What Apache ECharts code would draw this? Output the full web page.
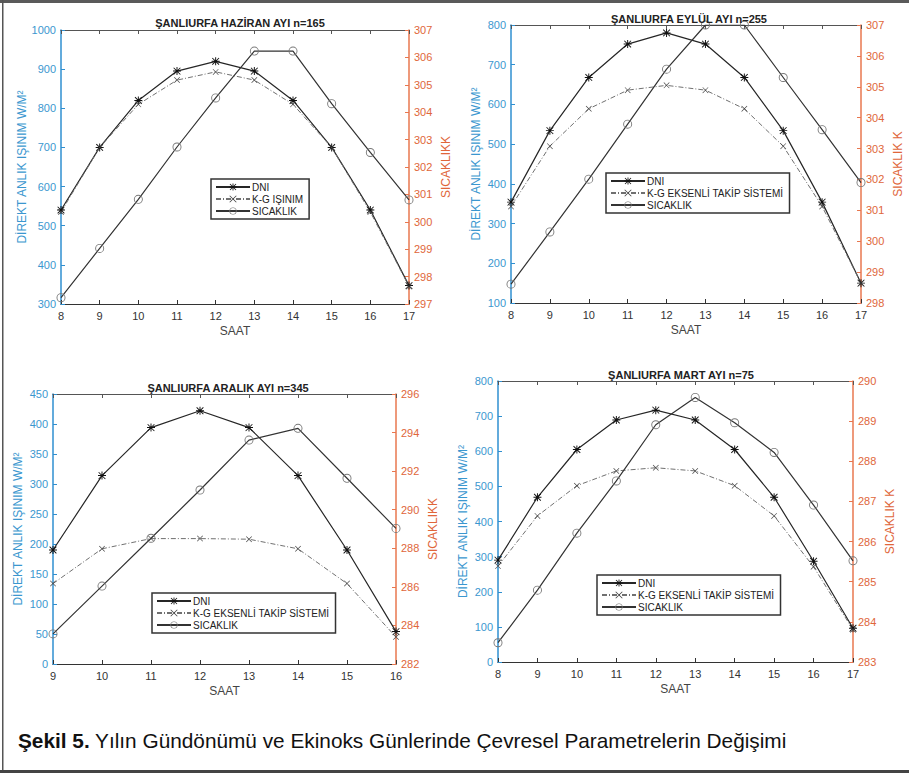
<!DOCTYPE html>
<html>
<head>
<meta charset="utf-8">
<script src="https://cdn.jsdelivr.net/npm/echarts@6/dist/echarts.min.js"></script>
<style>
html,body{margin:0;padding:0;background:#fff;}
#main{width:909px;height:776px;}
</style>
</head>
<body>
<div id="main"></div>
<script>
// ---- data ----
const hoursA = [8, 9, 10, 11, 12, 13, 14, 15, 16, 17];
const hoursC = [9, 10, 11, 12, 13, 14, 15, 16];

const haziranDNI = [540, 700, 820, 895, 920, 895, 820, 700, 540, 347];
const haziranKG  = [535, 700, 810, 872, 893, 872, 810, 700, 535, 345];
const haziranT   = [297.23, 299.03, 300.82, 302.73, 304.52, 306.23, 306.23, 304.31, 302.53, 300.8];

const eylulDNI = [354, 534, 668, 752, 780, 752, 668, 534, 354, 150];
const eylulKG  = [343, 495, 589, 636, 648, 636, 589, 495, 343, 150];
const eylulT   = [298.61, 300.30, 302.01, 303.79, 305.57, 307.0, 307.0, 305.30, 303.61, 301.9];

const aralikDNI = [190, 314, 394, 422, 394, 314, 190, 54];
const aralikKG  = [134, 192, 209, 209, 208, 192, 134, 45];
const aralikT   = [283.56, 286.04, 288.52, 291.02, 293.61, 294.22, 291.63, 289.03];

const martDNI = [290, 469, 605, 689, 717, 689, 605, 469, 287, 96];
const martKG  = [273, 416, 502, 544, 553, 544, 502, 416, 271, 92];
const martT   = [283.48, 284.79, 286.21, 287.51, 288.91, 289.59, 288.96, 288.22, 286.91, 285.52];

const panelTitles = ['ŞANLIURFA HAZİRAN AYI n=165', 'ŞANLIURFA EYLÜL AYI n=255', 'ŞANLIURFA ARALIK AYI n=345', 'ŞANLIURFA MART AYI n=75'];
const seriesNames = ['DNI', 'K-G EKSENLİ TAKİP SİSTEMİ', 'SICAKLIK'];
const kgNameHaziran = 'K-G IŞINIM';
const leftAxisName = 'DİREKT ANLIK IŞINIM W/M²';
const rightAxisNames = ['SICAKLIKK', 'SICAKLIK K', 'SICAKLIKK', 'SICAKLIK K'];
const xAxisName = 'SAAT';
const xRanges = [[8, 17], [8, 17], [9, 16], [8, 17]];
const leftRanges = [[300, 1000, 100], [100, 800, 100], [0, 450, 50], [0, 800, 100]];
const rightRanges = [[297, 307, 1], [298, 307, 1], [282, 296, 2], [283, 290, 1]];
const captionBold = 'Şekil 5.';
const captionText = ' Yılın Gündönümü ve Ekinoks Günlerinde Çevresel Parametrelerin Değişimi';

// ---- layout / style ----
const grids = [
  {left: 61, right: 500, top: 30, bottom: 472},
  {left: 511, right: 48, top: 25, bottom: 473},
  {left: 53, right: 513, top: 394, bottom: 112},
  {left: 498, right: 56, top: 381, bottom: 114}
];
const titlePos = [[235, 12], [684, 8], [223, 377], [676, 364]];
const legendPos = [[211, 179], [606, 173], [152, 593], [597, 575]];

const FONT = 'Liberation Sans, Arial, sans-serif';
const BLUE = '#2f8fd0', BLUE_T = '#3b97cf';
const ORANGE = '#e8774f', ORANGE_T = '#e0663a';

const ASTER = 'path://M4.4,0 L5.6,0 L5.6,10 L4.4,10 Z M0,4.4 L10,4.4 L10,5.6 L0,5.6 Z M1.2,0.4 L9.6,8.8 L8.8,9.6 L0.4,1.2 Z M8.8,0.4 L9.6,1.2 L1.2,9.6 L0.4,8.8 Z';
const XMARK = 'path://M0.8,0 L10,9.2 L9.2,10 L0,0.8 Z M9.2,0 L10,0.8 L0.8,10 L0,9.2 Z';
const RING = 'path://M10,5 A5,5 0 1,0 0,5 A5,5 0 1,0 10,5 Z M9,5 A4,4 0 1,1 1,5 A4,4 0 1,1 9,5 Z';

const panelData = [
  [hoursA, haziranDNI, haziranKG, haziranT, kgNameHaziran],
  [hoursA, eylulDNI, eylulKG, eylulT, seriesNames[1]],
  [hoursC, aralikDNI, aralikKG, aralikT, seriesNames[1]],
  [hoursA, martDNI, martKG, martT, seriesNames[1]]
];

function pairs(xs, ys) { return xs.map((x, i) => [x, ys[i]]); }
const plain = v => String(v);

const option = {
  animation: false,
  backgroundColor: '#fff',
  textStyle: {fontFamily: FONT},
  grid: grids.map(g => Object.assign({containLabel: false}, g)),
  title: panelTitles.map((t, i) => ({
    text: t, left: titlePos[i][0], top: titlePos[i][1], textAlign: 'center',
    textStyle: {fontSize: 11, fontWeight: 'bold', color: '#222', fontFamily: FONT}
  })),
  legend: [],
  xAxis: [],
  yAxis: [],
  series: [],
  graphic: [
    {type: 'rect', shape: {x: 0, y: 0, width: 909, height: 3}, style: {fill: '#5a5a5a'}},
    {type: 'rect', shape: {x: 2, y: 0, width: 1.5, height: 773}, style: {fill: '#555'}},
    {type: 'rect', shape: {x: 0, y: 770, width: 909, height: 3}, style: {fill: '#444'}},
    {type: 'text', left: 18, top: 730, style: {
      text: '{b|' + captionBold + '}' + captionText,
      fontSize: 20.8, fontFamily: FONT, fill: '#111',
      rich: {b: {fontWeight: 'bold', fontSize: 20.8, fontFamily: FONT, fill: '#111'}}
    }}
  ]
};

panelData.forEach((pd, i) => {
  const [xs, dni, kg, temp, kgName] = pd;
  option.xAxis.push({
    type: 'value', gridIndex: i, min: xRanges[i][0], max: xRanges[i][1], interval: 1,
    position: 'bottom',
    name: xAxisName, nameLocation: 'middle', nameGap: 21,
    nameTextStyle: {fontSize: 12, color: '#444', fontFamily: FONT},
    axisLine: {lineStyle: {color: '#333', width: 1.2}},
    axisTick: {inside: true, length: 4, lineStyle: {color: '#333'}},
    axisLabel: {fontSize: 11, color: '#333', margin: 6, fontFamily: FONT, formatter: plain},
    splitLine: {show: false}
  });
  option.xAxis.push({
    type: 'value', gridIndex: i, min: xRanges[i][0], max: xRanges[i][1], interval: 1,
    position: 'top',
    axisLine: {lineStyle: {color: '#555', width: 1.2}},
    axisTick: {inside: true, length: 4, lineStyle: {color: '#555'}},
    axisLabel: {show: false},
    splitLine: {show: false}
  });
  option.yAxis.push({
    type: 'value', gridIndex: i, position: 'left',
    min: leftRanges[i][0], max: leftRanges[i][1], interval: leftRanges[i][2],
    name: leftAxisName, nameLocation: 'middle', nameRotate: 90, nameGap: 29,
    nameTextStyle: {fontSize: 12, color: BLUE_T, fontFamily: FONT},
    axisLine: {show: true, lineStyle: {color: BLUE, width: 1.5}},
    axisTick: {show: true, inside: true, length: 4, lineStyle: {color: BLUE}},
    axisLabel: {fontSize: 11, color: BLUE_T, margin: 5, fontFamily: FONT, formatter: plain},
    splitLine: {show: false}
  });
  option.yAxis.push({
    type: 'value', gridIndex: i, position: 'right',
    min: rightRanges[i][0], max: rightRanges[i][1], interval: rightRanges[i][2],
    name: rightAxisNames[i], nameLocation: 'middle', nameRotate: 90, nameGap: 31,
    nameTextStyle: {fontSize: 12, color: ORANGE_T, fontFamily: FONT},
    axisLine: {show: true, lineStyle: {color: ORANGE, width: 1.5}},
    axisTick: {show: true, inside: true, length: 4, lineStyle: {color: ORANGE}},
    axisLabel: {fontSize: 11, color: ORANGE_T, margin: 5, fontFamily: FONT, formatter: plain},
    splitLine: {show: false}
  });
  const xi = i * 2, yl = i * 2, yr = i * 2 + 1;
  option.series.push({
    type: 'line', name: seriesNames[0], xAxisIndex: xi, yAxisIndex: yl,
    data: pairs(xs, dni), symbol: ASTER, symbolSize: 8, showAllSymbol: true,
    lineStyle: {color: '#262626', width: 1.2}, itemStyle: {color: '#111'}
  });
  option.series.push({
    type: 'line', name: kgName, xAxisIndex: xi, yAxisIndex: yl,
    data: pairs(xs, kg), symbol: XMARK, symbolSize: 6, showAllSymbol: true,
    lineStyle: {color: '#707070', width: 1, type: [5, 2, 1, 2]}, itemStyle: {color: '#444'}
  });
  option.series.push({
    type: 'line', name: seriesNames[2], xAxisIndex: xi, yAxisIndex: yr,
    data: pairs(xs, temp), symbol: RING, symbolSize: 9, showAllSymbol: true,
    lineStyle: {color: '#333', width: 1.2},
    itemStyle: {color: '#777'}
  });
  option.legend.push({
    data: [seriesNames[0], kgName, seriesNames[2]],
    orient: 'vertical', left: legendPos[i][0], top: legendPos[i][1],
    padding: [3, 6, 3, 4], itemGap: 2, itemWidth: 34, itemHeight: 9,
    borderColor: '#333', borderWidth: 1.5, backgroundColor: '#fff',
    selectedMode: false,
    textStyle: {fontSize: 10, color: '#222', fontFamily: FONT, padding: [0, 0, 0, -3]}
  });
});

const chart = echarts.init(document.getElementById('main'), null, {renderer: 'svg'});
chart.setOption(option);
</script>
</body>
</html>
